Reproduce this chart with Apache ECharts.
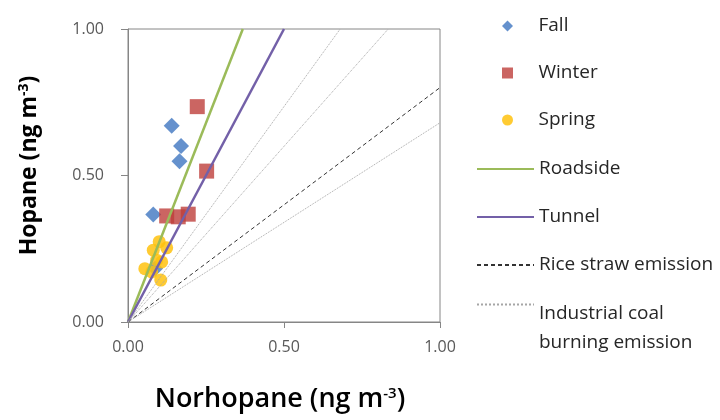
<!DOCTYPE html>
<html>
<head>
<meta charset="utf-8">
<script src="https://cdn.jsdelivr.net/npm/echarts@6/dist/echarts.min.js"></script>
<style>
  html, body { margin: 0; padding: 0; background: #fff; }
  #main { width: 720px; height: 420px; }
</style>
</head>
<body>
<div id="main"></div>
<script>
// measured points, [norhopane, hopane] in ng m-3
var fall = [[0.140, 0.670], [0.170, 0.601], [0.165, 0.549], [0.081, 0.367], [0.087, 0.183]];
var winter = [[0.222, 0.735], [0.252, 0.515], [0.124, 0.362], [0.161, 0.359], [0.193, 0.368]];
var spring = [[0.100, 0.274], [0.124, 0.253], [0.081, 0.245], [0.092, 0.211], [0.108, 0.205],
              [0.054, 0.182], [0.076, 0.171], [0.105, 0.143]];

// source ratio lines (start, end)
var roadside = [[0, 0], [0.368, 1]];
var tunnel = [[0, 0], [0.5, 1]];
var riceStraw = [[0, 0], [1, 0.8]];
var coalA = [[0, 0], [0.68, 1]];
var coalB = [[0, 0], [0.834, 1]];
var coalC = [[0, 0], [1, 0.68]];

var axisTicks = [0, 0.5, 1];

var chart = echarts.init(document.getElementById('main'));
var font = '"Open Sans", sans-serif';
var coalName = 'Industrial coal burning emission';
var legendText = { fontFamily: font, fontSize: 19, color: '#262626', lineHeight: 24 };

function lineSeries(name, data, color, width, type) {
  return {
    name: name, type: 'line', data: data, symbol: 'none',
    lineStyle: { color: color, width: width, type: type },
    itemStyle: { color: color },
    silent: true
  };
}
function lineItem(name) {
  return { name: name, itemStyle: { opacity: 0 } };
}

option = {
  animation: false,
  grid: { left: 128, right: 280, top: 29, bottom: 98, show: true, borderColor: '#868686', borderWidth: 1 },
  legend: [
    {
      orient: 'vertical', left: 502, top: 14, padding: 0,
      itemWidth: 52, itemHeight: 11, itemGap: 23, symbolKeepAspect: true,
      textStyle: legendText, selectedMode: false,
      data: [
        { name: 'Fall', icon: 'path://M5,0L10,5L5,10L0,5Z' },
        { name: 'Winter', icon: 'path://M0,0H10V10H0Z' },
        { name: 'Spring', icon: 'path://M0,5A5,5,0,1,1,10,5A5,5,0,1,1,0,5Z' }
      ]
    },
    {
      orient: 'vertical', left: 476, top: 157, padding: 0,
      itemWidth: 57, itemHeight: 11, itemGap: 24,
      textStyle: legendText, selectedMode: false,
      data: [lineItem('Roadside'), lineItem('Tunnel'), lineItem('Rice straw emission')]
    },
    {
      orient: 'vertical', left: 476, top: 275, padding: 0,
      itemWidth: 57, itemHeight: 11,
      textStyle: {
        fontFamily: font, fontSize: 19, color: '#262626',
        rich: {
          p: { fontSize: 1, lineHeight: 48 },
          a: { fontFamily: font, fontSize: 19, color: '#262626', lineHeight: 29 }
        }
      },
      formatter: function () { return '{p| }\n{a|Industrial coal}\n{a|burning emission}'; },
      selectedMode: false,
      data: [lineItem(coalName)]
    }
  ],
  xAxis: {
    type: 'value', min: 0, max: 1, interval: 0.5,
    name: '{a|Norhopane (ng m}{s|-3}{a|)}',
    nameLocation: 'middle', nameGap: 64,
    nameTextStyle: {
      padding: [0, 8, 0, 0],
      rich: {
        a: { fontFamily: font, fontSize: 27, fontWeight: 600, color: '#000' },
        s: { fontFamily: font, fontSize: 15, fontWeight: 600, color: '#000', verticalAlign: 'top', padding: [0, 0, 12, 0] }
      }
    },
    axisLine: { lineStyle: { color: '#868686' } },
    axisTick: { length: 6, lineStyle: { color: '#868686' } },
    splitLine: { show: false },
    axisLabel: { margin: 17, fontFamily: font, fontSize: 16, color: '#595959',
      formatter: function (v) { return axisTicks.indexOf(v) >= 0 ? v.toFixed(2) : ''; } }
  },
  yAxis: {
    type: 'value', min: 0, max: 1, interval: 0.5,
    name: '{a|Hopane (ng m}{s|-3}{a|)}',
    nameLocation: 'middle', nameGap: 86,
    nameTextStyle: {
      padding: [0, 0, 0, 20],
      rich: {
        a: { fontFamily: font, fontSize: 23, fontWeight: 'bold', color: '#000' },
        s: { fontFamily: font, fontSize: 14, fontWeight: 'bold', color: '#000', verticalAlign: 'top', padding: [0, 0, 11, 0] }
      }
    },
    axisLine: { show: true, lineStyle: { color: '#868686' } },
    axisTick: { show: true, length: 7, lineStyle: { color: '#868686' } },
    splitLine: { show: false },
    axisLabel: { margin: 24, fontFamily: font, fontSize: 16, color: '#595959',
      formatter: function (v) { return axisTicks.indexOf(v) >= 0 ? v.toFixed(2) : ''; } }
  },
  series: [
    { name: 'Fall', type: 'scatter', symbol: 'diamond', symbolSize: 16, data: fall,
      itemStyle: { color: '#3F75C0' } },
    { name: 'Winter', type: 'scatter', symbol: 'rect', symbolSize: 15, data: winter,
      itemStyle: { color: '#BE3E3B' } },
    { name: 'Spring', type: 'scatter', symbol: 'circle', symbolSize: 13, data: spring,
      itemStyle: { color: '#FFC20E', opacity: 0.85 } },
    lineSeries('Roadside', roadside, '#9BBB59', 2.5, 'solid'),
    lineSeries('Tunnel', tunnel, '#7360A8', 2.5, 'solid'),
    lineSeries('Rice straw emission', riceStraw, '#333333', 1, [4, 3]),
    lineSeries(coalName, coalA, '#A6A6A6', 1, 'dotted'),
    lineSeries(coalName, coalB, '#A6A6A6', 1, 'dotted'),
    lineSeries(coalName, coalC, '#A6A6A6', 1, 'dotted')
  ]
};

chart.setOption(option);
</script>
</body>
</html>
